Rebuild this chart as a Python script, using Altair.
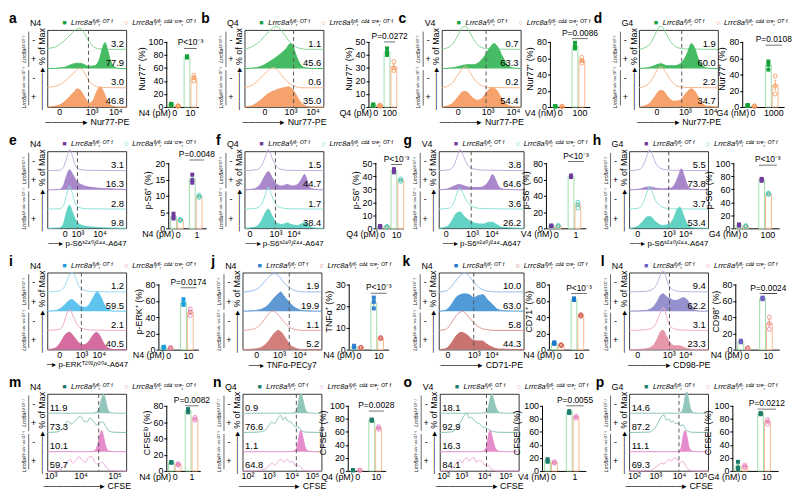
import altair as alt
import pandas as pd

LETTERS = list("abcdefghijklmnop")
STIM = ["N4", "Q4", "V4", "G4", "N4", "Q4", "V4", "G4", "N4", "N4", "N4", "N4", "N4", "Q4", "V4", "G4"]
UNIT = ["pM", "pM", "nM", "nM", "pM", "pM", "nM", "nM", "pM", "pM", "pM", "pM", "pM", "pM", "nM", "nM"]
HI_DOSE = ["10", "100", "100", "1000", "1", "10", "1", "100", "10", "10", "10", "10", "1", "10", "1", "10"]
SUPS = "p-S6\u02e2\u00b2\u2074\u2070/\u00b2\u2074\u2074-A647"
MARKER = ["Nur77-PE"] * 4 + [SUPS] * 4 + ["p-ERK\u1d40\u00b2\u2070\u00b2/\u02b8\u00b2\u2070\u2074-A647", "TNF\u03b1-PECy7", "CD71-PE", "CD98-PE"] + ["CFSE"] * 4
ARROW_N = [6, 6, 6, 6, 2, 2, 2, 2, 1, 2, 6, 6, 9, 9, 9, 9]
X_TITLE_SIZE = [9, 9, 9, 9, 8, 8, 8, 8, 8, 8.5, 9, 9, 9, 9, 9, 9]
Y_TITLE = ["Nur77\u207a (%)"] * 4 + ["p-S6\u207a (%)"] * 4 + ["p-ERK\u207a (%)", "TNF\u03b1\u207a (%)", "CD71\u207a (%)", "CD98\u207a (%)"] + ["CFSE\u02e1\u1d52 (%)"] * 4
Y_MAX = [100, 50, 80, 80, 20, 50, 80, 100, 80, 30, 80, 80, 80, 100, 100, 100]
Y_STEP = [20, 10, 20, 20, 5, 10, 20, 20, 20, 10, 20, 20, 20, 20, 20, 20]
P_TEXT = ["P<10\u207b\u00b3", "P=0.0272", "P=0.0086", "P=0.0108", "P=0.0048", "P<10\u207b\u00b3", "P<10\u207b\u00b3", "P<10\u207b\u00b3",
          "P=0.0174", "P<10\u207b\u00b3", "P<10\u207b\u00b3", "P=0.0024", "P=0.0082", "P=0.0028", "P=0.0055", "P=0.0212"]
P_Y = [90, 50, 84, 76, 21, 49, 82, 97, 76, 26, 69, 69, 80, 92, 100, 95]

PCT = [["3.2", "77.9", "3.0", "46.8"], ["1.1", "45.6", "0.6", "35.0"], ["0.7", "63.3", "0.2", "54.4"], ["1.9", "60.0", "2.2", "34.7"],
       ["3.1", "16.3", "2.8", "9.8"], ["1.5", "44.7", "1.7", "38.4"], ["3.8", "64.6", "3.6", "26.2"], ["5.5", "73.8", "3.7", "53.4"],
       ["1.2", "59.5", "2.1", "40.5"], ["1.9", "19.9", "1.1", "5.2"], ["10.0", "63.0", "5.8", "44.3"], ["9.4", "62.2", "3.1", "23.3"],
       ["11.9", "73.3", "10.1", "59.7"], ["0.9", "76.6", "1.1", "64.8"], ["18.1", "92.9", "16.3", "84.1"], ["14.6", "87.2", "11.1", "69.3"]]

WT_LOW = [[3, 5, 4.5], [1, 1.5, 2], [0.5, 1, 1], [1.5, 2, 2.5], [3, 3.5, 4.5], [1, 1.5, 1.8], [2.5, 3, 3.5], [4, 5, 6],
          [2, 3, 3.5], [1, 1.5, 1.8], [7, 8, 9], [9, 10, 11], [10, 10.5, 11], [1, 1, 1.5], [14, 16, 18], [3, 5, 14]]
KO_LOW = [[1, 1.5, 2], [0.5, 1, 1.5], [0.3, 0.5, 0.8], [0.5, 1, 1.5], [2.4, 2.6, 2.8], [1, 1.2, 1.5], [2.5, 3, 3.5], [3, 3.5, 4],
          [1.5, 2, 2.5], [0.8, 1, 1.1], [5, 5.5, 6], [1.5, 2, 2.5], [7, 8, 9], [0.8, 1, 1.2], [12, 13, 14], [5, 7, 9]]
WT_HIGH = [[76, 77, 78], [40, 42, 45], [72, 74, 79], [46, 52, 56], [14, 14.8, 16.5], [43, 44.5, 45.5], [63, 64, 65], [73, 75, 76],
           [55, 57, 62], [19, 22, 24], [61, 62, 63], [62, 63, 64], [72, 74, 76], [77, 78, 79], [89, 90, 92], [87, 88, 89]]
KO_HIGH = [[40, 45, 49], [28, 30, 35], [54, 57, 61], [16, 26, 38], [9.5, 9.8, 10.2], [36, 37, 38], [25, 29, 32], [52, 53, 54],
           [42, 46, 50], [5, 5.3, 5.6], [41, 42, 43], [25, 32, 40], [62, 64, 66], [64, 66, 68], [81, 83, 84], [72, 76, 79]]

X_TICKS = [[15, 56, 86], [25, 58, 86], [20, 58, 90], [22, 58, 90],
           [22, 38, 66], [6, 39, 62], [8, 39, 62], [10, 50, 71],
           [15, 43, 65], [17, 46, 72], [10, 41, 62], [10, 50, 71],
           [4, 42, 85], [6, 33, 62, 88], [4, 27, 56, 83], [6, 33, 63, 90]]
L3 = ["0", "10\u00b3", "10\u2074"]
X_LABS = [L3] * 12 + [["10\u00b3", "10\u2074", "10\u2075"]] + [["10\u00b2", "10\u00b3", "10\u2074", "10\u2075"]] * 3
GATE = [52, 62, 56, 54, 38, 39, 38, 50, 43, 59, 41, 51, 65, 68, 59, 63]

HIST_A = [[(0, .05), (10, .12), (20, .4), (30, .8), (37, 1.05), (41, 1.1), (46, .9), (52, .45), (58, .15), (65, .03), (75, 0), (100, 0)],
          [(0, 0), (20, .05), (30, .2), (38, .28), (44, .25), (52, .12), (60, .15), (66, .5), (70, 1.1), (73, 1.35), (76, 1.0), (80, .4), (85, .08), (92, 0), (100, 0)],
          [(0, .02), (15, .15), (25, .45), (33, .75), (40, 1.0), (44, .95), (48, .7), (53, .35), (60, .1), (68, .02), (100, 0)],
          [(0, 0), (15, .1), (25, .4), (33, .75), (38, .95), (42, .85), (48, .45), (53, .2), (58, .35), (63, .85), (67, 1.05), (71, .8), (76, .3), (82, .05), (90, 0), (100, 0)]]
HIST_B = [[(0, .02), (10, .15), (20, .45), (30, .9), (37, 1.15), (41, 1.2), (47, .95), (55, .5), (62, .2), (70, .05), (80, 0), (100, 0)],
          [(0, 0), (15, .05), (25, .2), (35, .45), (45, .75), (53, 1.05), (58, 1.3), (61, 1.2), (65, .7), (70, .25), (76, .05), (85, 0), (100, 0)],
          [(0, .02), (10, .15), (20, .5), (30, .9), (36, 1.05), (41, .95), (48, .6), (56, .25), (65, .05), (75, 0), (100, 0)],
          [(0, 0), (10, .08), (20, .35), (30, .7), (38, .85), (44, .95), (50, 1.0), (56, 1.05), (60, .95), (65, .65), (70, .3), (76, .08), (85, 0), (100, 0)]]
HIST_C = [[(0, 0), (12, .2), (20, .7), (26, 1.15), (30, 1.2), (35, .9), (42, .4), (50, .1), (60, .02), (100, 0)],
          [(0, 0), (15, .05), (25, .15), (32, .2), (40, .2), (48, .35), (55, .7), (62, 1.15), (66, 1.3), (71, 1.1), (77, .6), (83, .2), (90, .03), (100, 0)],
          [(0, 0), (12, .2), (20, .65), (27, 1.05), (30, 1.1), (35, .85), (42, .4), (50, .12), (60, .02), (100, 0)],
          [(0, 0), (12, .15), (20, .5), (27, .8), (31, .8), (37, .55), (45, .35), (52, .5), (58, .85), (64, 1.0), (69, .9), (75, .5), (82, .15), (90, .02), (100, 0)]]
HIST_D = [[(0, 0), (12, .2), (20, .75), (25, 1.15), (28, 1.2), (33, .9), (40, .4), (48, .1), (58, .02), (100, 0)],
          [(0, 0), (15, .08), (22, .2), (28, .25), (35, .15), (45, .15), (55, .35), (62, .9), (66, 1.3), (70, 1.1), (75, .5), (82, .1), (90, 0), (100, 0)],
          [(0, 0), (12, .2), (20, .7), (25, 1.05), (28, 1.1), (33, .85), (40, .4), (48, .1), (58, .02), (100, 0)],
          [(0, 0), (12, .15), (20, .55), (26, .85), (30, .85), (36, .55), (44, .3), (52, .35), (60, .75), (66, .95), (71, .8), (77, .35), (85, .05), (100, 0)]]
HIST_E = [[(0, 0), (15, .02), (20, .15), (24, .6), (28, 1.1), (31, .85), (35, .3), (40, .08), (50, .02), (100, 0)],
          [(0, 0), (15, .02), (20, .2), (24, .7), (28, 1.05), (32, .8), (37, .45), (44, .25), (55, .13), (70, .07), (85, .04), (100, .02)],
          [(0, 0), (15, .02), (20, .15), (24, .7), (28, 1.2), (31, .9), (35, .3), (40, .08), (50, .02), (100, 0)],
          [(0, 0), (15, .02), (20, .2), (24, .8), (28, 1.2), (32, .8), (37, .35), (44, .15), (55, .07), (70, .03), (100, 0)]]
HIST_F = [[(0, 0), (15, .05), (22, .3), (27, .8), (30, 1.1), (33, .85), (38, .35), (45, .08), (55, .02), (100, 0)],
          [(0, 0), (12, .05), (20, .3), (26, .75), (30, .95), (34, .7), (40, .3), (47, .2), (54, .28), (60, .2), (66, .25), (72, .55), (76, .8), (79, .5), (83, .1), (90, .02), (100, 0)],
          [(0, 0), (15, .05), (22, .3), (27, .85), (30, 1.15), (33, .85), (38, .35), (45, .08), (55, .02), (100, 0)],
          [(0, 0), (12, .05), (20, .3), (26, .8), (30, 1.0), (34, .7), (40, .3), (47, .2), (54, .28), (60, .18), (67, .15), (73, .25), (77, .32), (81, .15), (88, .02), (100, 0)]]
HIST_G = [[(0, 0), (12, .05), (18, .3), (22, .8), (25, 1.1), (28, .85), (33, .35), (40, .1), (50, .03), (100, 0)],
          [(0, 0), (10, .05), (18, .2), (24, .28), (30, .2), (38, .12), (48, .12), (55, .25), (60, .55), (63, .8), (66, .6), (70, .2), (76, .03), (100, 0)],
          [(0, 0), (12, .05), (17, .3), (21, .8), (24, 1.1), (28, .85), (33, .4), (40, .12), (50, .03), (100, 0)],
          [(0, 0), (10, .1), (16, .45), (21, .8), (25, .85), (30, .6), (36, .4), (44, .25), (52, .22), (58, .3), (63, .32), (68, .2), (75, .05), (100, 0)]]
HIST_H = [[(0, 0), (12, .05), (18, .3), (23, .85), (26, 1.1), (29, .85), (34, .35), (42, .08), (52, .02), (100, 0)],
          [(0, 0), (12, .03), (20, .12), (26, .16), (32, .1), (42, .05), (52, .08), (58, .3), (63, .8), (66, 1.1), (69, .8), (73, .3), (78, .05), (100, 0)],
          [(0, 0), (12, .05), (18, .35), (23, .95), (26, 1.2), (29, .9), (34, .4), (42, .1), (52, .02), (100, 0)],
          [(0, 0), (10, .08), (17, .35), (23, .6), (27, .6), (33, .35), (42, .15), (50, .2), (56, .5), (61, 1.0), (64, 1.1), (68, .75), (73, .25), (80, .03), (100, 0)]]
HIST_I = [[(0, 0), (15, .05), (22, .3), (27, .8), (31, 1.0), (35, .8), (40, .3), (47, .08), (57, .02), (100, 0)],
          [(0, 0), (12, .05), (20, .25), (26, .5), (31, .6), (36, .45), (42, .25), (48, .2), (53, .35), (58, .7), (63, 1.0), (67, .8), (72, .35), (78, .08), (86, 0), (100, 0)],
          [(0, 0), (15, .05), (20, .3), (24, .8), (28, 1.1), (32, .8), (37, .35), (45, .08), (55, .02), (100, 0)],
          [(0, 0), (10, .08), (17, .4), (23, .8), (28, .9), (33, .7), (40, .35), (46, .25), (52, .4), (57, .7), (62, .9), (66, .75), (71, .35), (77, .08), (85, 0), (100, 0)]]
HIST_J = [[(0, 0), (10, .04), (20, .2), (28, .55), (35, .85), (40, .95), (45, .85), (52, .5), (60, .2), (68, .05), (78, 0), (100, 0)],
          [(0, 0), (15, .03), (25, .12), (33, .35), (40, .7), (45, .9), (48, 1.0), (52, .8), (58, .5), (64, .25), (70, .1), (78, .02), (100, 0)],
          [(0, 0), (10, .04), (20, .2), (28, .6), (34, .9), (38, 1.0), (43, .9), (50, .55), (58, .2), (66, .05), (76, 0), (100, 0)],
          [(0, 0), (15, .03), (25, .15), (33, .45), (40, .85), (45, 1.0), (49, .9), (54, .6), (60, .25), (67, .07), (75, 0), (100, 0)]]
HIST_K = [[(0, 0), (8, .05), (15, .3), (22, .7), (28, .95), (31, 1.0), (36, .8), (42, .45), (50, .15), (58, .04), (68, 0), (100, 0)],
          [(0, 0), (8, .05), (14, .3), (20, .7), (25, .85), (30, .9), (36, .85), (41, .7), (46, .8), (52, .85), (57, .6), (63, .35), (69, .1), (76, .02), (100, 0)],
          [(0, 0), (8, .05), (14, .35), (20, .75), (25, .95), (28, 1.0), (33, .8), (40, .45), (48, .15), (56, .04), (66, 0), (100, 0)],
          [(0, 0), (8, .05), (14, .3), (20, .7), (26, .9), (30, .85), (35, .7), (40, .5), (46, .45), (51, .45), (56, .3), (63, .12), (70, .03), (100, 0)]]
HIST_L = [[(0, 0), (20, .03), (30, .15), (36, .5), (40, .95), (43, 1.1), (46, .85), (50, .35), (56, .1), (65, .02), (100, 0)],
          [(0, 0), (20, .03), (30, .2), (36, .55), (40, .85), (43, .9), (47, .75), (52, .65), (58, .55), (63, .6), (68, .7), (72, .65), (77, .35), (82, .08), (90, 0), (100, 0)],
          [(0, 0), (20, .03), (30, .15), (36, .55), (40, 1.0), (43, 1.2), (46, .9), (50, .35), (56, .1), (65, .02), (100, 0)],
          [(0, 0), (20, .03), (30, .2), (36, .6), (40, .95), (43, 1.0), (47, .7), (52, .35), (58, .2), (64, .2), (70, .1), (78, .02), (100, 0)]]
HIST_M = [[(0, 0), (55, 0), (62, .05), (66, .3), (69, .8), (71, 1.0), (73, .8), (76, .25), (80, .03), (88, 0), (100, 0)],
          [(0, 0), (12, .03), (18, .15), (22, .4), (26, .6), (30, .45), (34, .55), (38, .75), (42, .85), (46, .6), (50, .55), (54, .75), (58, .6), (62, .4), (66, .5), (70, .55), (74, .3), (78, .08), (84, .01), (100, 0)],
          [(0, 0), (55, 0), (60, .05), (64, .4), (67, .95), (69, 1.1), (71, .8), (74, .25), (78, .03), (86, 0), (100, 0)],
          [(0, 0), (14, .03), (20, .2), (25, .45), (29, .6), (32, .4), (36, .55), (40, .75), (44, .55), (48, .45), (52, .7), (56, .75), (60, .45), (64, .35), (68, .45), (71, .4), (75, .15), (80, .03), (100, 0)]]
HIST_N = [[(0, 0), (60, 0), (66, .05), (70, .4), (72, .85), (74, 1.0), (76, .75), (79, .25), (83, .03), (90, 0), (100, 0)],
          [(0, 0), (20, .02), (28, .1), (33, .35), (37, .55), (40, .45), (44, .7), (48, .9), (51, .65), (54, .8), (57, .6), (61, .55), (64, .4), (67, .3), (70, .3), (74, .12), (80, .02), (100, 0)],
          [(0, 0), (60, 0), (66, .05), (70, .45), (72, .95), (74, 1.1), (76, .8), (79, .25), (83, .03), (90, 0), (100, 0)],
          [(0, 0), (20, .02), (28, .1), (33, .25), (37, .4), (41, .3), (45, .5), (48, .6), (52, .45), (56, .6), (60, .45), (63, .5), (66, .3), (70, .3), (74, .15), (80, .02), (100, 0)]]
HIST_O = [[(0, 0), (52, 0), (58, .05), (62, .4), (64, .85), (66, 1.0), (68, .7), (72, .2), (77, .02), (85, 0), (100, 0)],
          [(0, 0), (15, .03), (22, .25), (27, .6), (31, .9), (34, 1.0), (37, .75), (40, .8), (43, .65), (47, .5), (50, .45), (54, .3), (58, .25), (62, .15), (68, .05), (75, .01), (100, 0)],
          [(0, 0), (52, 0), (56, .05), (60, .45), (62, .95), (64, 1.1), (66, .8), (70, .2), (75, .02), (83, 0), (100, 0)],
          [(0, 0), (12, .03), (18, .25), (22, .45), (25, .55), (28, .4), (31, .6), (34, .7), (37, .5), (40, .65), (43, .7), (46, .45), (50, .55), (53, .5), (57, .3), (61, .3), (65, .1), (72, .01), (100, 0)]]
HIST_P = [[(0, 0), (62, 0), (66, .05), (69, .4), (71, .9), (73, 1.1), (75, .75), (78, .2), (82, .02), (90, 0), (100, 0)],
          [(0, 0), (25, .02), (32, .2), (37, .55), (41, .85), (44, .9), (47, .65), (50, .7), (53, .55), (56, .6), (59, .45), (62, .5), (65, .35), (68, .4), (71, .2), (75, .05), (80, .01), (100, 0)],
          [(0, 0), (60, 0), (64, .05), (67, .45), (69, .95), (71, 1.1), (73, .8), (76, .2), (80, .02), (88, 0), (100, 0)],
          [(0, 0), (25, .02), (32, .15), (37, .3), (41, .4), (44, .35), (47, .5), (50, .6), (53, .5), (56, .65), (59, .7), (62, .5), (65, .45), (68, .5), (71, .3), (75, .08), (80, .01), (100, 0)]]
CURVES = [HIST_A, HIST_B, HIST_C, HIST_D, HIST_E, HIST_F, HIST_G, HIST_H,
          HIST_I, HIST_J, HIST_K, HIST_L, HIST_M, HIST_N, HIST_O, HIST_P]

G4C = ["#86d494", "#45bb63", "#f6b88e", "#f5a26c", "#16a03a", "#f39150", "#9fdcaa", "#f7b990"]
PUR = ["#c1aedd", "#a887cb", "#8fe3d8", "#62d2c4", "#6f3b9f", "#45c8b8", "#8d68b9", "#62d3c5"]
BLP = ["#9ad8f4", "#5ec4ee", "#efa9c4", "#d46c9f", "#1a9ce2", "#dc6a9c", "#6cc9f0", "#eaa2c0"]
BLR = ["#93bde8", "#5f98d2", "#e8a3a1", "#d27f7c", "#2f7fd2", "#d35855", "#6ea9e0", "#dd7c79"]
BLR2 = ["#93bde8", "#509ad8", "#e0938f", "#c97370", "#1c78cc", "#cc4c48", "#6ea9e0", "#d8807d"]
LAV = ["#b7b4e2", "#9591ce", "#f0b0bf", "#e797aa", "#6a60c2", "#e27b94", "#8f89cc", "#e99aac"]
TEA = ["#86c2b7", "#93c6bb", "#eeaad8", "#e58ccd", "#1f7d6c", "#e37cc6", "#5ea99b", "#eaa0d6"]
PAL = [G4C] * 4 + [PUR] * 4 + [BLP, BLR, BLR2, LAV] + [TEA] * 4

HIST_X = [47, 247, 447, 647, 47, 247, 444, 637, 47, 245, 444, 637, 47, 245, 445, 637]
HIST_W = [80, 80, 80, 80, 80, 80, 86, 80, 80, 80, 86, 80, 80, 80, 80, 80]
BAR_X = [168, 373, 557, 752, 170, 380, 553, 743, 160, 353, 556, 745, 168, 352, 549, 742]
BAR_W = [32, 28, 40, 42, 38, 28, 40, 46, 40, 40, 40, 44, 34, 38, 44, 46]
LETTER_DX = [-39, -44, -44, -46, -39, -29, -36, -37, -39, -32, -37, -29, -39, -30, -37, -34]
HH = 78
ROW_STEP = 123

FONT = "Liberation Sans"
WT_LEG = "Lrrc8a\u1da0\u02e1/\u1da0\u02e1; \u1d3c\u1d40\u207b\u1d35"
KO_LEG = "Lrrc8a\u1da0\u02e1/\u1da0\u02e1; \u1d9c\u1d48\u2074\u207b\u1d9c\u02b3\u1d49; \u1d3c\u1d40\u207b\u1d35"
WT_ROW = "Lrrc8a\u1da0\u02e1/\u1da0\u02e1 \u1d3c\u1d40\u207b\u1d35"
KO_ROW = "Lrrc8a\u1da0\u02e1/\u1da0\u02e1 \u1d9c\u1d48\u2074\u207b\u1d9c\u02b3\u1d49 \u1d3c\u1d40\u207b\u1d35"
ONE = pd.DataFrame({"k": [0]})


def hist_chart(i):
    pal = PAL[i]
    xs = alt.Scale(domain=[0, 100], nice=False, zero=False)
    ys = alt.Scale(domain=[0, 4], nice=False, zero=False)
    expr = " : ".join(f"datum.value == {p} ? '{l}'" for p, l in zip(X_TICKS[i], X_LABS[i])) + " : ''"
    xaxis = alt.Axis(values=X_TICKS[i], labelExpr=expr, ticks=False, domain=False, grid=False,
                     labelPadding=1, labelFontSize=9, titleFontSize=X_TITLE_SIZE[i], titlePadding=1,
                     labelFlush=False, labelOverlap=False)
    X = alt.X("x:Q", scale=xs, axis=xaxis, title="\u2500" * ARROW_N[i] + "\u25b8 " + MARKER[i])
    yaxis = alt.Axis(labels=False, ticks=False, domain=False, grid=False, titleFontSize=9, titlePadding=1)
    Y = alt.Y("y:Q", scale=ys, axis=yaxis, title="\u2500\u2500\u2500\u2500\u2500\u2500\u25b8 % of Max")
    layers = []
    cfse = i >= 12
    for lane in range(4):
        base = 3 - lane
        pts = CURVES[i][lane]
        df = pd.DataFrame({"x": [p[0] for p in pts], "y": [base + p[1] for p in pts], "b": [base] * len(pts)})
        filled = (lane % 2 == 0) if cfse else (lane % 2 == 1)
        wt = lane < 2
        line_c = pal[0] if wt else pal[2]
        fill_c = pal[1] if wt else pal[3]
        if filled:
            layers.append(alt.Chart(df).mark_area(interpolate="monotone", color=fill_c, opacity=1)
                          .encode(x=X, y=Y, y2="b:Q"))
            layers.append(alt.Chart(df).mark_line(interpolate="monotone", color=fill_c, strokeWidth=1)
                          .encode(x=X, y=Y))
        else:
            layers.append(alt.Chart(df).mark_line(interpolate="monotone", color=line_c, strokeWidth=1)
                          .encode(x=X, y=Y))
    layers.append(alt.Chart(pd.DataFrame({"x": [GATE[i]]}))
                  .mark_rule(strokeDash=[4, 3], color="#555555", strokeWidth=1).encode(x=X))
    num = pd.DataFrame({"x": [3 if cfse else 97] * 4, "y": [3.03, 2.03, 1.03, 0.03], "t": PCT[i]})
    layers.append(alt.Chart(num).mark_text(align="left" if cfse else "right", baseline="bottom",
                                           fontSize=9.5, font=FONT, color="black")
                  .encode(x=X, y=Y, text="t:N"))
    signs = pd.DataFrame({"y": [3.5, 2.5, 1.5, 0.5], "t": ["-", "+", "-", "+"]})
    layers.append(alt.Chart(signs).mark_text(fontSize=9, font=FONT, color="black", baseline="middle")
                  .encode(x=alt.value(-14), y=Y, text="t:N"))
    geno = pd.DataFrame({"y": [3.0, 1.0], "t": [WT_ROW, KO_ROW]})
    layers.append(alt.Chart(geno).mark_text(fontSize=5, font=FONT, fontStyle="italic", angle=270,
                                            color="black", baseline="middle")
                  .encode(x=alt.value(-24), y=Y, text="t:N"))
    brk = pd.DataFrame({"y": [3.92, 1.92], "y2": [2.08, 0.08]})
    layers.append(alt.Chart(brk).mark_rule(color="black", strokeWidth=0.6)
                  .encode(x=alt.value(-19), y=Y, y2="y2:Q"))
    layers.append(alt.Chart(ONE).mark_text(text=LETTERS[i], fontSize=14, fontWeight="bold", font=FONT,
                                           align="left", baseline="alphabetic", color="black")
                  .encode(x=alt.value(LETTER_DX[i]), y=alt.value(-7)))
    layers.append(alt.Chart(ONE).mark_text(text=STIM[i], fontSize=9, font=FONT, color="black", baseline="middle")
                  .encode(x=alt.value(-12), y=alt.value(-7)))
    layers.append(alt.Chart(ONE).mark_text(text="\u25a0", fontSize=7, color=pal[4], baseline="middle")
                  .encode(x=alt.value(17), y=alt.value(-7)))
    layers.append(alt.Chart(ONE).mark_text(text=WT_LEG, fontSize=7.5, font=FONT, fontStyle="italic",
                                           align="left", color="black", baseline="middle")
                  .encode(x=alt.value(24), y=alt.value(-7)))
    layers.append(alt.Chart(ONE).mark_text(text="\u25cb", fontSize=7.5, color=pal[5], baseline="middle")
                  .encode(x=alt.value(80), y=alt.value(-7)))
    layers.append(alt.Chart(ONE).mark_text(text=KO_LEG, fontSize=7.5, font=FONT, fontStyle="italic",
                                           align="left", color="black", baseline="middle")
                  .encode(x=alt.value(86), y=alt.value(-7)))
    return alt.layer(*layers).properties(width=HIST_W[i], height=HH,
                                         view=alt.ViewBackground(stroke="black", strokeWidth=0.8))


def bar_chart(i):
    pal = PAL[i]
    w = BAR_W[i]
    hi = HI_DOSE[i]
    top = Y_MAX[i] * HH / (HH - 12)
    rows = []
    for dose, g, vals in [("0", "WT", WT_LOW[i]), ("0", "KO", KO_LOW[i]), (hi, "WT", WT_HIGH[i]), (hi, "KO", KO_HIGH[i])]:
        for r, v in enumerate(vals):
            rows.append({"dose": dose, "geno": g, "rep": r, "v": v})
    df = pd.DataFrame(rows)
    summ = df.groupby(["dose", "geno"], sort=False)["v"].agg(["mean", "sem"]).reset_index()
    summ["lo"] = summ["mean"] - summ["sem"]
    summ["hi"] = summ["mean"] + summ["sem"]
    X = alt.X("dose:N", scale=alt.Scale(domain=["0", hi], paddingInner=0.2, paddingOuter=0.1),
              axis=alt.Axis(labelAngle=0, ticks=False, domain=True, domainColor="black", domainWidth=1,
                            labelPadding=2, labelFontSize=9, grid=False), title="")
    XO = alt.XOffset("geno:N", scale=alt.Scale(domain=["WT", "KO"], paddingInner=0.15))
    ys = alt.Scale(domain=[0, top], nice=False, zero=True)
    yaxis = alt.Axis(values=list(range(0, Y_MAX[i] + 1, Y_STEP[i])), domain=False, tickSize=3,
                     labelFontSize=9, labelPadding=1, titleFontSize=9, titlePadding=2, grid=False)

    def Y(f):
        return alt.Y(f, scale=ys, axis=yaxis, title=Y_TITLE[i])

    layers = []
    layers.append(alt.Chart(summ).mark_bar(fill="white", strokeWidth=1)
                  .encode(x=X, xOffset=XO, y=Y("mean:Q"),
                          stroke=alt.Stroke("geno:N", scale=alt.Scale(domain=["WT", "KO"], range=[pal[6], pal[7]]), legend=None)))
    mcol = alt.Color("geno:N", scale=alt.Scale(domain=["WT", "KO"], range=[pal[4], pal[5]]), legend=None)
    layers.append(alt.Chart(summ).mark_rule(strokeWidth=0.8).encode(x=X, xOffset=XO, y=Y("lo:Q"), y2="hi:Q", color=mcol))
    layers.append(alt.Chart(summ).mark_tick(size=3, thickness=0.8).encode(x=X, xOffset=XO, y=Y("hi:Q"), color=mcol))
    for g in ["WT", "KO"]:
        for r in range(3):
            sub = df[(df["geno"] == g) & (df["rep"] == r)]
            if g == "WT":
                mk = alt.Chart(sub).mark_point(shape="square", filled=True, size=16, color=pal[4], opacity=1, dx=(r - 1) * 1.6)
            else:
                mk = alt.Chart(sub).mark_point(shape="circle", filled=False, size=16, strokeWidth=0.8, color=pal[5], opacity=1, dx=(r - 1) * 1.6)
            layers.append(mk.encode(x=X, xOffset=XO, y=Y("v:Q")))
    pdf = pd.DataFrame({"dose": [hi], "v": [P_Y[i]], "t": [P_TEXT[i]]})
    layers.append(alt.Chart(pdf).mark_tick(size=0.4 * w, thickness=0.8, color="black").encode(x=X, y=Y("v:Q")))
    layers.append(alt.Chart(pdf).mark_text(baseline="bottom", dy=-1, fontSize=8.5, font=FONT, color="black")
                  .encode(x=X, y=Y("v:Q"), text="t:N"))
    layers.append(alt.Chart(pd.DataFrame({"dose": ["0"]}))
                  .mark_text(text=f"{STIM[i]} ({UNIT[i]})", align="right", baseline="top", dx=-4, fontSize=9, font=FONT, color="black")
                  .encode(x=X, y=alt.value(HH + 2)))
    layers.append(alt.Chart(pd.DataFrame({"lo": [0], "hi": [Y_MAX[i]]})).mark_rule(color="black", strokeWidth=1)
                  .encode(x=alt.value(0), y=Y("lo:Q"), y2="hi:Q"))
    return alt.layer(*layers).properties(width=w, height=HH)


def spacer(wd):
    return alt.Chart(ONE).mark_point(opacity=0).encode(x=alt.value(0), y=alt.value(0)).properties(width=wd, height=1)


rows = []
for r in range(4):
    items = []
    cur = None
    for c in range(4):
        i = r * 4 + c
        if cur is not None:
            items.append(spacer(HIST_X[i] - cur))
        items.append(hist_chart(i))
        items.append(spacer(BAR_X[i] - HIST_X[i] - HIST_W[i]))
        items.append(bar_chart(i))
        cur = BAR_X[i] + BAR_W[i]
    rows.append(alt.hconcat(*items, spacing=0, bounds="flush"))

chart = (alt.vconcat(*rows, spacing=ROW_STEP, bounds="flush")
         .properties(padding=0)
         .configure(font=FONT)
         .configure_view(strokeWidth=0)
         .configure_axis(labelColor="black", titleColor="black", titleFontWeight="normal",
                         labelFont=FONT, titleFont=FONT, domainColor="black", tickColor="black"))

chart.save("out.html", embed_options={"renderer": "svg", "actions": False})
